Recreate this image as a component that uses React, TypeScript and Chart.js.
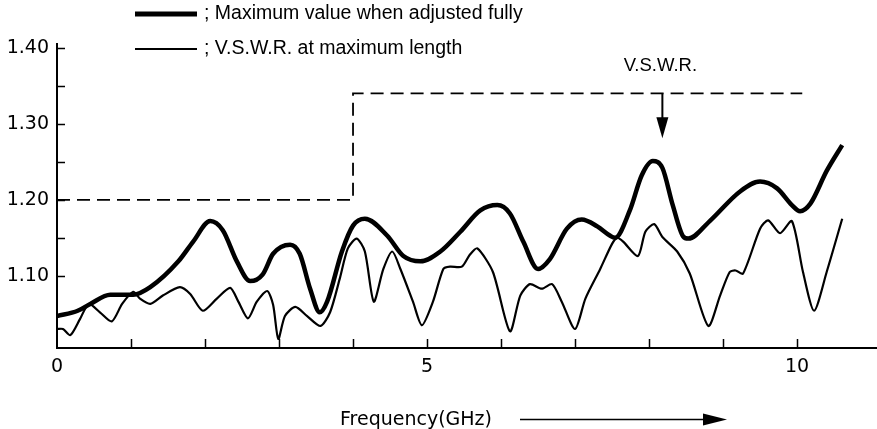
import React, { useEffect, useRef } from "react";
import { Chart, registerables } from "chart.js";

Chart.register(...registerables);

// Maximum value when adjusted fully (thick line)
const thickFreq = [0, 0.28, 0.45, 0.72, 1.03, 1.26, 1.64, 1.84, 2.07, 2.24, 2.43, 2.61, 2.78, 2.92, 3.15, 3.28, 3.42, 3.55, 3.65, 3.85, 4.0, 4.16, 4.46, 4.68, 4.91, 5.18, 5.45, 5.72, 5.95, 6.12, 6.3, 6.5, 6.66, 6.89, 7.09, 7.3, 7.47, 7.54, 7.74, 7.9, 8.05, 8.18, 8.32, 8.46, 8.53, 8.82, 9.23, 9.5, 9.73, 9.93, 10.04, 10.18, 10.4, 10.61];
const thickVswr = [1.047, 1.054, 1.063, 1.075, 1.075, 1.085, 1.119, 1.145, 1.172, 1.16, 1.119, 1.093, 1.102, 1.129, 1.141, 1.129, 1.083, 1.052, 1.066, 1.132, 1.166, 1.175, 1.153, 1.126, 1.119, 1.132, 1.158, 1.186, 1.193, 1.182, 1.145, 1.109, 1.122, 1.162, 1.174, 1.165, 1.153, 1.15, 1.186, 1.232, 1.251, 1.242, 1.193, 1.152, 1.149, 1.172, 1.211, 1.224, 1.215, 1.193, 1.185, 1.195, 1.238, 1.272];

// V.S.W.R. at maximum length (thin line)
const thinFreq = [0, 0.08, 0.18, 0.31, 0.43, 0.58, 0.74, 0.88, 1.03, 1.12, 1.26, 1.43, 1.66, 1.8, 1.97, 2.16, 2.34, 2.45, 2.58, 2.7, 2.84, 2.92, 2.99, 3.08, 3.22, 3.38, 3.56, 3.69, 3.82, 3.93, 4.05, 4.16, 4.28, 4.41, 4.53, 4.64, 4.81, 4.93, 5.08, 5.22, 5.31, 5.47, 5.58, 5.68, 5.89, 6.12, 6.26, 6.39, 6.55, 6.69, 6.82, 7.0, 7.14, 7.34, 7.5, 7.57, 7.65, 7.85, 7.95, 8.07, 8.18, 8.38, 8.55, 8.8, 8.96, 9.09, 9.17, 9.27, 9.5, 9.61, 9.77, 9.93, 10.08, 10.23, 10.4, 10.61];
const thinVswr = [1.03, 1.03, 1.022, 1.043, 1.063, 1.052, 1.04, 1.063, 1.079, 1.07, 1.063, 1.074, 1.085, 1.076, 1.054, 1.07, 1.084, 1.066, 1.044, 1.066, 1.08, 1.062, 1.017, 1.047, 1.059, 1.047, 1.034, 1.052, 1.096, 1.136, 1.149, 1.132, 1.066, 1.109, 1.132, 1.109, 1.066, 1.035, 1.066, 1.109, 1.112, 1.112, 1.128, 1.136, 1.105, 1.027, 1.074, 1.089, 1.083, 1.089, 1.066, 1.03, 1.07, 1.109, 1.142, 1.15, 1.145, 1.126, 1.158, 1.168, 1.151, 1.132, 1.103, 1.034, 1.074, 1.105, 1.107, 1.103, 1.162, 1.173, 1.156, 1.172, 1.105, 1.054, 1.105, 1.175];

// Specification limit (dashed)
const specFreq = [0, 4, 4, 10.07];
const specVswr = [1.2, 1.2, 1.34, 1.34];

const yTickValues = [1.1, 1.2, 1.3, 1.4];
const yMinorValues = [1.1, 1.15, 1.2, 1.25, 1.3, 1.35, 1.4];
const xTickValues = [0, 5, 10];
const xMinorValues = [1, 2, 3, 4, 5, 6, 7, 8, 9, 10];

const legendLabels = ["; Maximum value when adjusted fully", "; V.S.W.R. at maximum length"];
const annotationLabel = "V.S.W.R.";
const arrowFreq = 8.18;
const arrowFrom = 1.34;
const arrowTo = 1.281;
const xAxisLabel = "Frequency(GHz)";

const toPoints = (xs: number[], ys: number[]) => xs.map((x, i) => ({ x, y: ys[i] }));

const decorPlugin = {
  id: "decor",
  afterDraw(chart: any) {
    const ctx = chart.ctx as CanvasRenderingContext2D;
    const { left, bottom } = chart.chartArea;
    const xs = chart.scales.x;
    const ys = chart.scales.y;
    ctx.save();
    ctx.strokeStyle = "#000";
    ctx.fillStyle = "#000";
    ctx.lineCap = "butt";

    // inner tick marks
    ctx.lineWidth = 1.5;
    ctx.beginPath();
    xMinorValues.forEach((v) => {
      const px = Math.round(xs.getPixelForValue(v)) + 0.5;
      ctx.moveTo(px, bottom);
      ctx.lineTo(px, bottom - 9);
    });
    yMinorValues.forEach((v) => {
      const py = Math.round(ys.getPixelForValue(v)) + 0.5;
      ctx.moveTo(left, py);
      ctx.lineTo(left + 8, py);
    });
    ctx.stroke();

    // V.S.W.R. arrow
    const ax = xs.getPixelForValue(arrowFreq);
    const ay0 = ys.getPixelForValue(arrowFrom);
    const ay1 = ys.getPixelForValue(arrowTo);
    ctx.lineWidth = 2;
    ctx.beginPath();
    ctx.moveTo(ax, ay0);
    ctx.lineTo(ax, ay1 - 18);
    ctx.stroke();
    ctx.beginPath();
    ctx.moveTo(ax - 6, ay1 - 21);
    ctx.lineTo(ax + 6, ay1 - 21);
    ctx.lineTo(ax, ay1);
    ctx.closePath();
    ctx.fill();
    ctx.font = "18.5px 'Liberation Sans', Arial, sans-serif";
    ctx.textAlign = "center";
    ctx.textBaseline = "middle";
    ctx.fillText(annotationLabel, ax - 2, ay0 - 27);

    // legend
    const legendY = [14, 49];
    const legendW = [5, 2.2];
    ctx.font = "19.5px 'Liberation Sans', Arial, sans-serif";
    ctx.textAlign = "left";
    legendLabels.forEach((label, i) => {
      ctx.lineWidth = legendW[i];
      ctx.beginPath();
      ctx.moveTo(135, legendY[i]);
      ctx.lineTo(197, legendY[i]);
      ctx.stroke();
      ctx.fillText(label, 204, legendY[i]);
    });

    // x axis title with arrow
    ctx.font = "19px 'DejaVu Sans', sans-serif";
    ctx.textBaseline = "alphabetic";
    ctx.fillText(xAxisLabel, 340, 425);
    ctx.lineWidth = 1.5;
    ctx.beginPath();
    ctx.moveTo(520, 419.5);
    ctx.lineTo(706, 419.5);
    ctx.stroke();
    ctx.beginPath();
    ctx.moveTo(703, 413.5);
    ctx.lineTo(727, 419.5);
    ctx.lineTo(703, 425.5);
    ctx.closePath();
    ctx.fill();
    ctx.restore();
  },
};

export default function App() {
  const canvasRef = useRef<HTMLCanvasElement>(null);

  useEffect(() => {
    document.body.style.margin = "0";
    const canvas = canvasRef.current;
    if (!canvas) return;
    const chart = new Chart(canvas, {
      type: "line",
      data: {
        datasets: [
          {
            label: legendLabels[0],
            data: toPoints(thickFreq, thickVswr),
            borderColor: "#000",
            borderWidth: 4.5,
            pointRadius: 0,
            cubicInterpolationMode: "monotone",
            fill: false,
          },
          {
            label: legendLabels[1],
            data: toPoints(thinFreq, thinVswr),
            borderColor: "#000",
            borderWidth: 2.2,
            pointRadius: 0,
            tension: 0.25,
            fill: false,
          },
          {
            label: "spec",
            data: toPoints(specFreq, specVswr),
            borderColor: "#000",
            borderWidth: 1.8,
            borderDash: [13, 7],
            pointRadius: 0,
            tension: 0,
            fill: false,
          },
        ],
      },
      options: {
        animation: false,
        responsive: true,
        maintainAspectRatio: false,
        layout: { padding: { top: 44, left: 0, right: 0, bottom: 0 } },
        plugins: {
          legend: { display: false },
          tooltip: { enabled: false },
          title: { display: false },
        },
        scales: {
          x: {
            type: "linear",
            min: 0,
            max: 11.08,
            grid: { display: false, drawTicks: false },
            border: { display: true, color: "#000", width: 2 },
            afterBuildTicks: (scale: any) => {
              scale.ticks = xTickValues.map((value) => ({ value }));
            },
            afterFit: (scale: any) => {
              scale.height = 81;
            },
            ticks: {
              color: "#000",
              padding: 8,
              maxRotation: 0,
              autoSkip: false,
              font: { family: "'DejaVu Sans', sans-serif", size: 19 },
              callback: (v: any) => String(v),
            },
          },
          y: {
            type: "linear",
            min: 1.005,
            max: 1.405,
            grid: { display: false, drawTicks: false },
            border: { display: true, color: "#000", width: 2 },
            afterBuildTicks: (scale: any) => {
              scale.ticks = yTickValues.map((value) => ({ value }));
            },
            afterFit: (scale: any) => {
              scale.width = 57;
            },
            ticks: {
              color: "#000",
              padding: 8,
              autoSkip: false,
              font: { family: "'DejaVu Sans', sans-serif", size: 19 },
              callback: (v: any) => Number(v).toFixed(2),
            },
          },
        },
      },
      plugins: [decorPlugin],
    });
    return () => chart.destroy();
  }, []);

  return (
    <div style={{ width: 877, height: 429, position: "relative" }}>
      <canvas ref={canvasRef} />
    </div>
  );
}
